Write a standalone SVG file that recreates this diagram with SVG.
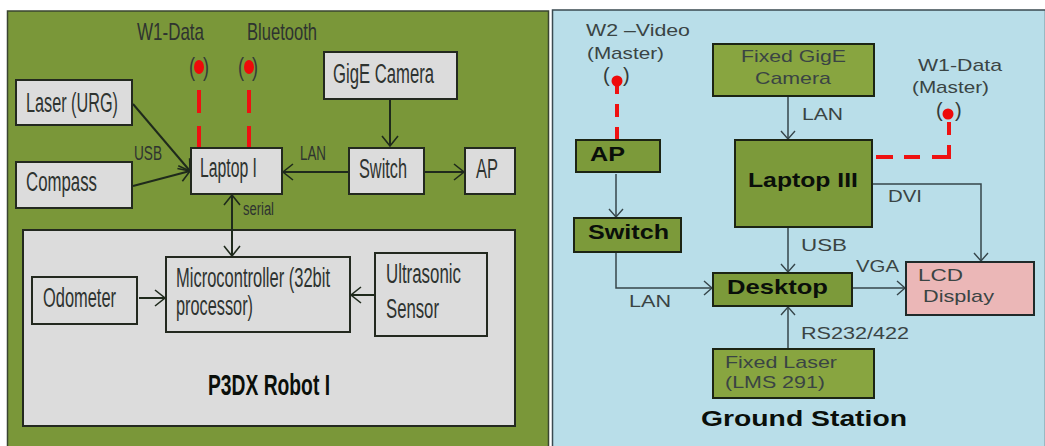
<svg xmlns="http://www.w3.org/2000/svg" width="1045" height="446" viewBox="0 0 1045 446">
<style>
.t{font-family:"Liberation Sans",Arial,sans-serif;fill:#2e3330}
.n{font-size:27px}
.r{font-family:"Liberation Sans",Arial,sans-serif;fill:#3a4444;font-size:17px}
.b{font-family:"Liberation Sans",Arial,sans-serif;font-weight:bold;fill:#0a0f0a}
.g{fill:#dcdcdc;stroke:#23291f;stroke-width:2}
.o{fill:#7c9a3a;stroke:#1c2414;stroke-width:2}
.p{fill:#88a540;stroke:#1c2414;stroke-width:2}
.c{fill:none;stroke:#1f2a1c;stroke-width:2}
.c2{fill:none;stroke:#36454a;stroke-width:1.5}
.d{fill:none;stroke:#ee1111;stroke-width:4}
.w{fill:#ee0a0a}
.par{font-family:"Liberation Sans",Arial,sans-serif;fill:#333b38}
</style>
<defs>
<marker id="a" markerWidth="13" markerHeight="20" refX="11" refY="10" orient="auto" markerUnits="userSpaceOnUse"><path d="M1 2L11 10L1 18" fill="none" stroke="#1f2a1c" stroke-width="1.600"/></marker>
<marker id="s" markerWidth="13" markerHeight="20" refX="1" refY="10" orient="auto" markerUnits="userSpaceOnUse"><path d="M11 2L1 10L11 18" fill="none" stroke="#1f2a1c" stroke-width="1.600"/></marker>
<marker id="e" markerWidth="11" markerHeight="16" refX="9" refY="8" orient="auto" markerUnits="userSpaceOnUse"><path d="M1 1L9 8L1 15" fill="none" stroke="#36454a" stroke-width="1.400"/></marker>
</defs>
<rect width="1045" height="446" fill="#fff"/>
<g id="panel-left"><rect x="7.500" y="11" width="541" height="436" fill="#7a9739" stroke="#3a4530" stroke-width="1.500"/></g>
<g id="panel-right"><rect x="552.500" y="10" width="493" height="437" fill="#b9dee9" stroke="#3a4a50" stroke-width="1.500"/></g>
<g id="robot"><rect class="g" x="23" y="230" width="492" height="196"/><text class="b" x="208" y="395" font-size="29" textLength="122" lengthAdjust="spacingAndGlyphs">P3DX Robot I</text></g>
<g id="connectors">
<path class="c" d="M133 104L190 171" marker-end="url(#a)"/>
<path class="c" d="M133 186L190 171" marker-end="url(#a)"/>
<path class="c" d="M232 195V256" marker-start="url(#s)" marker-end="url(#a)"/>
<path class="c" d="M349 172H283" marker-end="url(#a)"/>
<path class="c" d="M424 172H464" marker-end="url(#a)"/>
<path class="c" d="M390 99V146" stroke-width="1.500" marker-end="url(#a)"/>
<path class="c" d="M139 298H165" marker-end="url(#a)"/>
<path class="c" d="M375 295H351" marker-end="url(#a)"/>
<path class="d" d="M199 90V113M199 126V147"/>
<path class="d" d="M249 90V113M249 126V147"/>
<path class="d" d="M617 81V94M617 104V117M617 127V139"/>
<path class="d" d="M876 157H893M904 157H920M932 157H949V145M949 135V122"/>
<path class="c2" d="M616 174V217" marker-end="url(#e)"/>
<path class="c2" d="M788 96V139" marker-end="url(#e)"/>
<path class="c2" d="M788 228V272" marker-end="url(#e)"/>
<path class="c2" d="M872 184H981V261" marker-end="url(#e)"/>
<path class="c2" d="M616 253V288H712" marker-end="url(#e)"/>
<path class="c2" d="M842 288H905" marker-end="url(#e)"/>
<path class="c2" d="M788 349V307" marker-end="url(#e)"/>
</g>
<g id="laser"><rect class="g" x="16" y="80" width="116" height="45"/><text class="t n" x="26" y="112" textLength="92" lengthAdjust="spacingAndGlyphs">Laser (URG)</text></g>
<g id="compass"><rect class="g" x="16" y="162" width="116" height="46"/><text class="t n" x="26" y="191" textLength="71" lengthAdjust="spacingAndGlyphs">Compass</text></g>
<g id="laptop1"><rect class="g" x="191" y="148" width="91" height="46"/><text class="t n" x="200" y="177" textLength="57" lengthAdjust="spacingAndGlyphs">Laptop I</text></g>
<g id="gige"><rect class="g" x="324" y="52" width="133" height="47"/><text class="t n" x="333" y="83" textLength="101" lengthAdjust="spacingAndGlyphs">GigE Camera</text></g>
<g id="switch1"><rect class="g" x="349" y="148" width="75" height="46"/><text class="t n" x="359" y="178" textLength="48" lengthAdjust="spacingAndGlyphs">Switch</text></g>
<g id="ap1"><rect class="g" x="465" y="148" width="50" height="46"/><text class="t n" x="476" y="178" textLength="22" lengthAdjust="spacingAndGlyphs">AP</text></g>
<g id="odometer"><rect class="g" x="32" y="277" width="105" height="47"/><text class="t n" x="43" y="307" textLength="73" lengthAdjust="spacingAndGlyphs">Odometer</text></g>
<g id="micro"><rect class="g" x="166" y="257" width="184" height="75"/><text class="t n" x="176" y="287" textLength="154" lengthAdjust="spacingAndGlyphs">Microcontroller (32bit</text><text class="t n" x="176" y="315" textLength="77" lengthAdjust="spacingAndGlyphs">processor)</text></g>
<g id="ultra"><rect class="g" x="375" y="253" width="112" height="83"/><text class="t n" x="386" y="283" textLength="75" lengthAdjust="spacingAndGlyphs">Ultrasonic</text><text class="t n" x="386" y="318" textLength="53" lengthAdjust="spacingAndGlyphs">Sensor</text></g>
<g id="labels-left">
<text class="t" font-size="24" x="137" y="40" textLength="67" lengthAdjust="spacingAndGlyphs">W1-Data</text>
<text class="t" font-size="24" x="247" y="40" textLength="70" lengthAdjust="spacingAndGlyphs">Bluetooth</text>
<text class="t" font-size="20" x="134" y="160" textLength="28" lengthAdjust="spacingAndGlyphs">USB</text>
<text class="t" font-size="20" x="300" y="160" textLength="26" lengthAdjust="spacingAndGlyphs">LAN</text>
<text class="t" font-size="18" x="243" y="215" textLength="31" lengthAdjust="spacingAndGlyphs">serial</text>
</g>
<g id="antenna-w1"><ellipse class="w" cx="199" cy="67" rx="5" ry="7"/><text class="par" font-size="26" x="189" y="76" textLength="6" lengthAdjust="spacingAndGlyphs">(</text><text class="par" font-size="26" x="203" y="76" textLength="6" lengthAdjust="spacingAndGlyphs">)</text></g>
<g id="antenna-bt"><ellipse class="w" cx="249" cy="67" rx="5" ry="7"/><text class="par" font-size="26" x="238" y="76" textLength="6" lengthAdjust="spacingAndGlyphs">(</text><text class="par" font-size="26" x="252" y="76" textLength="6" lengthAdjust="spacingAndGlyphs">)</text></g>
<g id="antenna-w2"><text class="r" x="586" y="36" textLength="104" lengthAdjust="spacingAndGlyphs">W2 –Video</text><text class="r" x="587" y="59" textLength="77" lengthAdjust="spacingAndGlyphs">(Master)</text><circle class="w" cx="617" cy="81" r="5.500"/><text class="par" font-size="20" x="603" y="82">(</text><text class="par" font-size="20" x="623" y="82">)</text></g>
<g id="antenna-w1m"><text class="r" x="918" y="71" textLength="84" lengthAdjust="spacingAndGlyphs">W1-Data</text><text class="r" x="912" y="93" textLength="77" lengthAdjust="spacingAndGlyphs">(Master)</text><circle class="w" cx="948" cy="114" r="5.500"/><text class="par" font-size="20" x="936" y="117">(</text><text class="par" font-size="20" x="955" y="117">)</text></g>
<g id="ap2"><rect class="o" x="576" y="140" width="84" height="32"/><text class="b" x="590" y="161" font-size="21" textLength="35" lengthAdjust="spacingAndGlyphs">AP</text></g>
<g id="switch2"><rect class="o" x="574" y="218" width="107" height="34"/><text class="b" x="588" y="239" font-size="21" textLength="81" lengthAdjust="spacingAndGlyphs">Switch</text></g>
<g id="fixed-gige"><rect class="p" x="713" y="44" width="161" height="52"/><text class="r" x="741" y="62" textLength="105" lengthAdjust="spacingAndGlyphs">Fixed GigE</text><text class="r" x="755" y="84" textLength="76" lengthAdjust="spacingAndGlyphs">Camera</text></g>
<g id="laptop3"><rect class="o" x="735" y="140" width="137" height="87"/><text class="b" x="748" y="187" font-size="21" textLength="110" lengthAdjust="spacingAndGlyphs">Laptop III</text></g>
<g id="desktop"><rect class="o" x="713" y="273" width="139" height="33"/><text class="b" x="727" y="294" font-size="21" textLength="101" lengthAdjust="spacingAndGlyphs">Desktop</text></g>
<g id="lcd"><rect x="906" y="262" width="128" height="53" fill="#ebb7b7" stroke="#1f2a2a" stroke-width="2"/><text class="r" x="918" y="281" textLength="45" lengthAdjust="spacingAndGlyphs">LCD</text><text class="r" x="923" y="302" textLength="71" lengthAdjust="spacingAndGlyphs">Display</text></g>
<g id="fixed-laser"><rect class="p" x="713" y="349" width="161" height="49"/><text class="r" x="725" y="368" textLength="112" lengthAdjust="spacingAndGlyphs">Fixed Laser</text><text class="r" x="725" y="388" textLength="100" lengthAdjust="spacingAndGlyphs">(LMS 291)</text></g>
<g id="labels-right">
<text class="r" x="802" y="120" textLength="41" lengthAdjust="spacingAndGlyphs">LAN</text>
<text class="r" x="888" y="202" textLength="34" lengthAdjust="spacingAndGlyphs">DVI</text>
<text class="r" x="801" y="251" textLength="46" lengthAdjust="spacingAndGlyphs">USB</text>
<text class="r" x="856" y="272" textLength="43" lengthAdjust="spacingAndGlyphs">VGA</text>
<text class="r" x="629" y="307" textLength="42" lengthAdjust="spacingAndGlyphs">LAN</text>
<text class="r" x="801" y="339" textLength="108" lengthAdjust="spacingAndGlyphs">RS232/422</text>
<text class="b" x="701" y="426" font-size="22" textLength="206" lengthAdjust="spacingAndGlyphs">Ground Station</text>
</g>
</svg>
